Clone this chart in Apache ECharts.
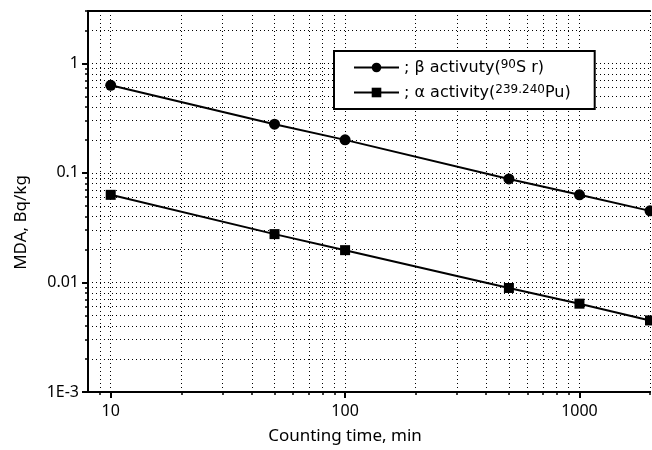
<!DOCTYPE html>
<html>
<head>
<meta charset="utf-8">
<script src="https://cdn.jsdelivr.net/npm/echarts@6/dist/echarts.min.js"></script>
<style>
html, body { margin: 0; padding: 0; background: #fff; }
#chart { width: 652px; height: 450px; }
</style>
</head>
<body>
<div id="chart"></div>
<script>
// data
var countingTime = [10, 50, 100, 500, 1000, 2000];
var betaMDA  = [0.63, 0.278, 0.2, 0.088, 0.063, 0.045];
var alphaMDA = [0.063, 0.0276, 0.0197, 0.0089, 0.0064, 0.0045];

// axes
var xRange = [8, 2000];
var yRange = [0.001, 3];
var xMajorTicks = [10, 100, 1000];
var xTickLabels = ['10', '100', '1000'];
var yMajorTicks = [0.001, 0.01, 0.1, 1];
var yTickLabels = ['1E-3', '0.01', '0.1', '1'];
var xGridTicks = [9, 10, 20, 30, 40, 50, 60, 70, 80, 90, 100, 200, 300, 400, 500, 600, 700, 800, 900, 1000, 2000];
var yGridTicks = [0.002, 0.003, 0.004, 0.005, 0.006, 0.007, 0.008, 0.009, 0.01,
                  0.02, 0.03, 0.04, 0.05, 0.06, 0.07, 0.08, 0.09, 0.1,
                  0.2, 0.3, 0.4, 0.5, 0.6, 0.7, 0.8, 0.9, 1, 2, 3];

var FONT = 'Noto Sans';
function pairs(xs, ys){ var ls = []; for(var i=0; i<xs.length; i++){ ls.push([xs[i], ys[i]]); } return ls; }
function pick(ticks, labels){ return function(v){ var i = ticks.indexOf(v); return i < 0 ? '' : labels[i]; }; }

var dotted = { color: '#000', width: 1, type: [1, 3] };

var chart = echarts.init(document.getElementById('chart'));
chart.setOption({
	backgroundColor: '#fff',
	animation: false,
	grid: { left: 88, right: 2, top: 11, bottom: 58 },
	legend: {
		left: 334, top: 51, orient: 'vertical',
		padding: [8, 24, 8, 19], itemGap: 8,
		itemWidth: 45, itemHeight: 12,
		backgroundColor: '#fff', borderColor: '#000', borderWidth: 2,
		data: ['beta', 'alpha'],
		formatter: function(name){
			if(name == 'beta') return '{t|; β activuty(}{s|90}{t|S r)}';
			return '{t|; α activity(}{s|239.240}{t|Pu)}';
		},
		textStyle: {
			rich: {
				t: { fontFamily: 'DejaVu Sans', fontSize: 16, color: '#000', lineHeight: 17, verticalAlign: 'bottom' },
				s: { fontFamily: 'DejaVu Sans', fontSize: 12, color: '#000', lineHeight: 17, verticalAlign: 'top' }
			}
		}
	},
	xAxis: [
		{ type: 'log', min: xRange[0], max: xRange[1], position: 'bottom',
		  name: 'Counting time, min', nameLocation: 'middle', nameGap: 36,
		  nameTextStyle: { fontFamily: FONT, fontSize: 17, color: '#000', padding: [0, 48, 0, 0] },
		  axisLine: { lineStyle: { color: '#000', width: 2 } },
		  axisTick: { customValues: xMajorTicks, length: 6, lineStyle: { width: 2, color: '#000' } },
		  axisLabel: { customValues: xMajorTicks, fontFamily: FONT, fontSize: 16, color: '#000', margin: 11,
		    formatter: pick(xMajorTicks, xTickLabels) },
		  splitLine: { show: false } },
		{ type: 'log', min: xRange[0], max: xRange[1], position: 'bottom',
		  axisLine: { show: false },
		  axisTick: { customValues: xGridTicks, length: 3, lineStyle: { width: 1.5, color: '#000' } },
		  axisLabel: { show: false },
		  splitLine: { show: true, lineStyle: dotted } },
		{ type: 'log', min: xRange[0], max: xRange[1], position: 'top',
		  axisLine: { show: true, lineStyle: { color: '#000', width: 2 } },
		  axisTick: { show: false }, axisLabel: { show: false }, splitLine: { show: false } }
	],
	yAxis: [
		{ type: 'log', min: yRange[0], max: yRange[1], position: 'left',
		  name: 'MDA, Bq/kg', nameLocation: 'middle', nameGap: 58,
		  nameTextStyle: { fontFamily: FONT, fontSize: 17, color: '#000', padding: [0, 42, 0, 0] },
		  axisLine: { lineStyle: { color: '#000', width: 2 } },
		  axisTick: { customValues: yMajorTicks, length: 6, lineStyle: { width: 2, color: '#000' } },
		  axisLabel: { customValues: yMajorTicks, fontFamily: FONT, fontSize: 16, color: '#000', margin: 9,
		    formatter: pick(yMajorTicks, yTickLabels) },
		  splitLine: { show: false } },
		{ type: 'log', min: yRange[0], max: yRange[1], position: 'left',
		  axisLine: { show: false },
		  axisTick: { customValues: yGridTicks, length: 3, lineStyle: { width: 1.5, color: '#000' } },
		  axisLabel: { show: false },
		  splitLine: { show: true, lineStyle: dotted } }
	],
	series: [
		{ name: 'beta', type: 'line', data: pairs(countingTime, betaMDA),
		  symbol: 'circle', symbolSize: 11,
		  lineStyle: { color: '#000', width: 2 }, itemStyle: { color: '#000' } },
		{ name: 'alpha', type: 'line', data: pairs(countingTime, alphaMDA),
		  symbol: 'rect', symbolSize: 10,
		  lineStyle: { color: '#000', width: 2 }, itemStyle: { color: '#000' } }
	]
});
</script>
</body>
</html>
